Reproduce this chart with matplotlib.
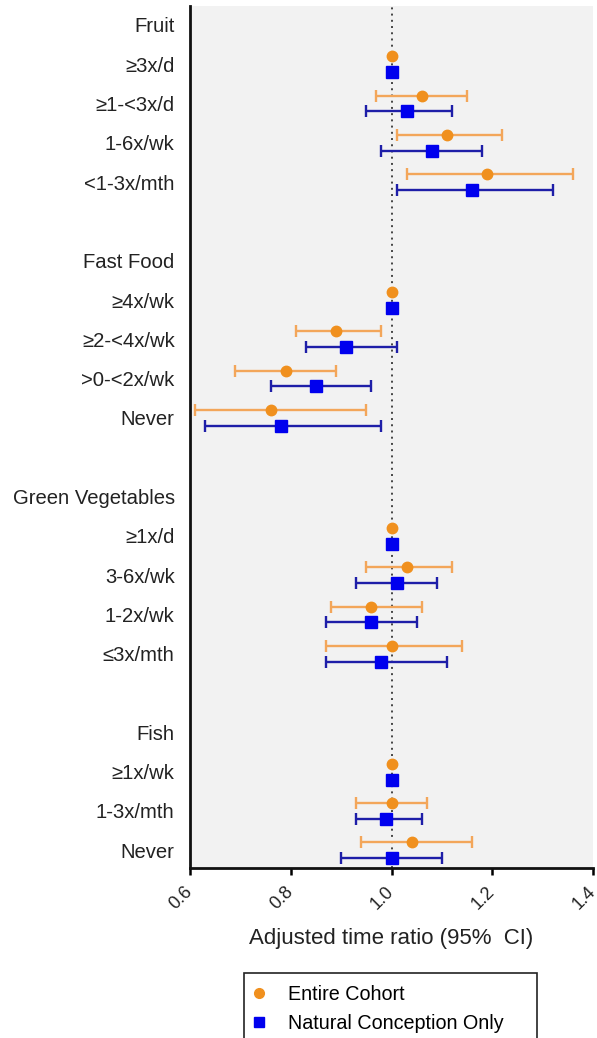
import numpy as np
import matplotlib
matplotlib.use("Agg")
import matplotlib.pyplot as plt
import matplotlib.transforms as mtransforms
from matplotlib.lines import Line2D

plt.rcParams['font.family'] = ['Liberation Sans', 'DejaVu Sans']

# Row labels, top to bottom (blank strings are spacer rows)
row_labels = ["Fruit", "≥3x/d", "≥1-<3x/d", "1-6x/wk", "<1-3x/mth", "",
              "Fast Food", "≥4x/wk", "≥2-<4x/wk", ">0-<2x/wk", "Never", "",
              "Green Vegetables", "≥1x/d", "3-6x/wk", "1-2x/wk", "≤3x/mth", "",
              "Fish", "≥1x/wk", "1-3x/mth", "Never"]

nan = np.nan
# Entire cohort: time ratio and 95% CI
cohort_tr = [nan, 1.00, 1.06, 1.11, 1.19, nan,
             nan, 1.00, 0.89, 0.79, 0.76, nan,
             nan, 1.00, 1.03, 0.96, 1.00, nan,
             nan, 1.00, 1.00, 1.04]
cohort_lo = [nan, 1.00, 0.97, 1.01, 1.03, nan,
             nan, 1.00, 0.81, 0.69, 0.61, nan,
             nan, 1.00, 0.95, 0.88, 0.87, nan,
             nan, 1.00, 0.93, 0.94]
cohort_hi = [nan, 1.00, 1.15, 1.22, 1.36, nan,
             nan, 1.00, 0.98, 0.89, 0.95, nan,
             nan, 1.00, 1.12, 1.06, 1.14, nan,
             nan, 1.00, 1.07, 1.16]

# Natural conception only
natural_tr = [nan, 1.00, 1.03, 1.08, 1.16, nan,
              nan, 1.00, 0.91, 0.85, 0.78, nan,
              nan, 1.00, 1.01, 0.96, 0.98, nan,
              nan, 1.00, 0.99, 1.00]
natural_lo = [nan, 1.00, 0.95, 0.98, 1.01, nan,
              nan, 1.00, 0.83, 0.76, 0.63, nan,
              nan, 1.00, 0.93, 0.87, 0.87, nan,
              nan, 1.00, 0.93, 0.90]
natural_hi = [nan, 1.00, 1.12, 1.18, 1.32, nan,
              nan, 1.00, 1.01, 0.96, 0.98, nan,
              nan, 1.00, 1.09, 1.05, 1.11, nan,
              nan, 1.00, 1.06, 1.10]

x_ticks = [0.6, 0.8, 1.0, 1.2, 1.4]

orange = '#F0901E'
orange_err = '#F3A65A'
blue = '#0000EE'
blue_err = '#1E1EA8'

fig = plt.figure(figsize=(5.97, 10.38), dpi=100)
ax = fig.add_axes([0.3183, 0.1638, 0.675, 0.8304])
ax.set_facecolor('#F2F2F2')

rows = np.arange(len(row_labels))
offset = 0.2


def draw_series(tr, lo, hi, ypos, color, ecolor, marker, ms):
    tr, lo, hi = np.array(tr), np.array(lo), np.array(hi)
    has_ci = ~np.isnan(tr) & (hi > lo)
    ax.errorbar(tr[has_ci], ypos[has_ci],
                xerr=[tr[has_ci] - lo[has_ci], hi[has_ci] - tr[has_ci]],
                fmt='none', ecolor=ecolor, elinewidth=1.7, capsize=4,
                capthick=1.7, zorder=3)
    ax.plot(tr, ypos, linestyle='none', marker=marker, ms=ms,
            color=color, zorder=4)


# Reference line at ratio 1
ax.axvline(1.0, color='#444444', linestyle=(0, (1, 2.2)), lw=1.4, zorder=2)

draw_series(cohort_tr, cohort_lo, cohort_hi, rows - offset,
            orange, orange_err, 'o', 7.5)
draw_series(natural_tr, natural_lo, natural_hi, rows + offset,
            blue, blue_err, 's', 8.3)

ax.set_xlim(0.6, 1.4)
ax.set_ylim(21.45, -0.48)
ax.set_xticks(x_ticks)
ax.set_xticklabels([f"{t:.1f}" for t in x_ticks], rotation=45,
                   rotation_mode='anchor', ha='right', va='center',
                   fontsize=13, color='#222222')
# nudge the slanted labels a little to the right of their ticks
nudge = mtransforms.ScaledTranslation(4 / 100, -2 / 100, fig.dpi_scale_trans)
for lab in ax.get_xticklabels():
    lab.set_transform(lab.get_transform() + nudge)

label_rows = [i for i, s in enumerate(row_labels) if s]
ax.set_yticks(label_rows)
ax.set_yticklabels([row_labels[i] for i in label_rows], fontsize=14.6,
                   color='#222222')
ax.tick_params(axis='y', length=0, pad=11)
ax.tick_params(axis='x', length=5, width=1.8, pad=10)

for side in ['top', 'right']:
    ax.spines[side].set_visible(False)
for side in ['left', 'bottom']:
    ax.spines[side].set_linewidth(2.0)
    ax.spines[side].set_color('#111111')

ax.set_xlabel('Adjusted time ratio (95%  CI)', fontsize=16, labelpad=11,
              color='#222222')

handles = [
    Line2D([0], [0], marker='o', color=orange, linestyle='none', ms=7,
           label='Entire Cohort'),
    Line2D([0], [0], marker='s', color=blue, linestyle='none', ms=7,
           label='Natural Conception Only'),
]
leg = fig.legend(handles=handles, loc='upper left',
                 bbox_to_anchor=(0.409, 0.0626, 0.49, 0.0),
                 mode='expand', fontsize=14.2, frameon=True, fancybox=False,
                 edgecolor='#222222', framealpha=1, handlelength=0.3,
                 handletextpad=1.3, labelspacing=0.5, borderpad=0.6,
                 borderaxespad=0)
leg.get_frame().set_linewidth(1.2)

fig.savefig('out.png', dpi=100)
